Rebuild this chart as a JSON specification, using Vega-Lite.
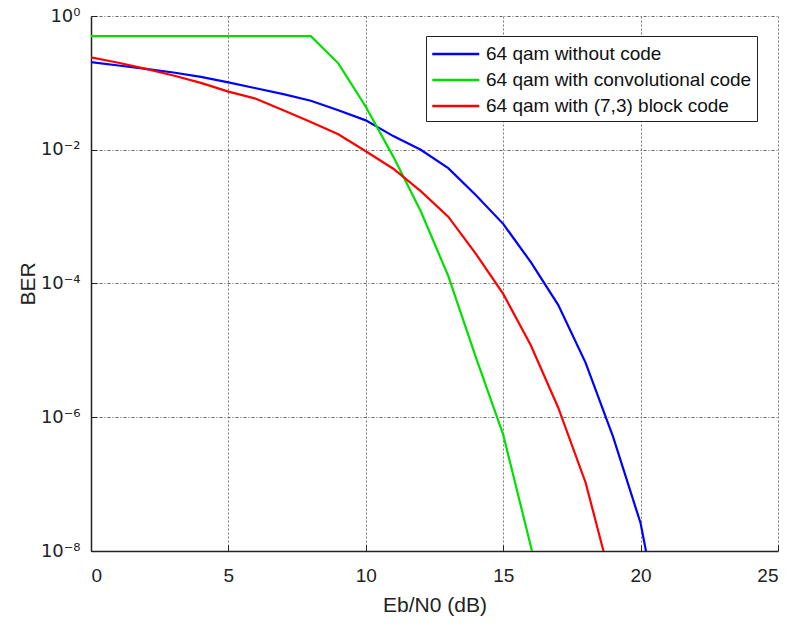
{
  "$schema": "https://vega.github.io/schema/vega-lite/v6.json",
  "autosize": "none",
  "width": 687,
  "height": 535,
  "padding": {"left": 91, "top": 16, "right": 13, "bottom": 78},
  "background": "white",
  "config": {
    "view": {"stroke": null},
    "font": "Liberation Sans"
  },
  "data": {
    "values": [
      {"snr": 0, "ber": 0.205, "s": "64 qam without code"},
      {"snr": 1, "ber": 0.182, "s": "64 qam without code"},
      {"snr": 2, "ber": 0.162, "s": "64 qam without code"},
      {"snr": 3, "ber": 0.143, "s": "64 qam without code"},
      {"snr": 4, "ber": 0.123, "s": "64 qam without code"},
      {"snr": 5, "ber": 0.102, "s": "64 qam without code"},
      {"snr": 6, "ber": 0.083, "s": "64 qam without code"},
      {"snr": 7, "ber": 0.068, "s": "64 qam without code"},
      {"snr": 8, "ber": 0.054, "s": "64 qam without code"},
      {"snr": 9, "ber": 0.039, "s": "64 qam without code"},
      {"snr": 10, "ber": 0.0275, "s": "64 qam without code"},
      {"snr": 11, "ber": 0.016, "s": "64 qam without code"},
      {"snr": 12, "ber": 0.01, "s": "64 qam without code"},
      {"snr": 13, "ber": 0.0053, "s": "64 qam without code"},
      {"snr": 14, "ber": 0.0021, "s": "64 qam without code"},
      {"snr": 15, "ber": 0.00078, "s": "64 qam without code"},
      {"snr": 16, "ber": 0.00021, "s": "64 qam without code"},
      {"snr": 17, "ber": 0.000048, "s": "64 qam without code"},
      {"snr": 18, "ber": 0.0000065, "s": "64 qam without code"},
      {"snr": 19, "ber": 5.1e-7, "s": "64 qam without code"},
      {"snr": 20, "ber": 2.6e-8, "s": "64 qam without code"},
      {"snr": 21, "ber": 2e-10, "s": "64 qam without code"},
      {"snr": 0, "ber": 0.5, "s": "64 qam with convolutional code"},
      {"snr": 1, "ber": 0.5, "s": "64 qam with convolutional code"},
      {"snr": 2, "ber": 0.5, "s": "64 qam with convolutional code"},
      {"snr": 3, "ber": 0.5, "s": "64 qam with convolutional code"},
      {"snr": 4, "ber": 0.5, "s": "64 qam with convolutional code"},
      {"snr": 5, "ber": 0.5, "s": "64 qam with convolutional code"},
      {"snr": 6, "ber": 0.5, "s": "64 qam with convolutional code"},
      {"snr": 7, "ber": 0.5, "s": "64 qam with convolutional code"},
      {"snr": 8, "ber": 0.5, "s": "64 qam with convolutional code"},
      {"snr": 9, "ber": 0.196, "s": "64 qam with convolutional code"},
      {"snr": 10, "ber": 0.044, "s": "64 qam with convolutional code"},
      {"snr": 11, "ber": 0.0079, "s": "64 qam with convolutional code"},
      {"snr": 12, "ber": 0.0012, "s": "64 qam with convolutional code"},
      {"snr": 13, "ber": 0.00013, "s": "64 qam with convolutional code"},
      {"snr": 14, "ber": 0.000008, "s": "64 qam with convolutional code"},
      {"snr": 15, "ber": 5.5e-7, "s": "64 qam with convolutional code"},
      {"snr": 16, "ber": 1.2e-8, "s": "64 qam with convolutional code"},
      {"snr": 17, "ber": 2.5e-10, "s": "64 qam with convolutional code"},
      {"snr": 0, "ber": 0.24, "s": "64 qam with (7,3) block code"},
      {"snr": 1, "ber": 0.2, "s": "64 qam with (7,3) block code"},
      {"snr": 2, "ber": 0.162, "s": "64 qam with (7,3) block code"},
      {"snr": 3, "ber": 0.129, "s": "64 qam with (7,3) block code"},
      {"snr": 4, "ber": 0.1, "s": "64 qam with (7,3) block code"},
      {"snr": 5, "ber": 0.074, "s": "64 qam with (7,3) block code"},
      {"snr": 6, "ber": 0.058, "s": "64 qam with (7,3) block code"},
      {"snr": 7, "ber": 0.039, "s": "64 qam with (7,3) block code"},
      {"snr": 8, "ber": 0.026, "s": "64 qam with (7,3) block code"},
      {"snr": 9, "ber": 0.017, "s": "64 qam with (7,3) block code"},
      {"snr": 10, "ber": 0.0095, "s": "64 qam with (7,3) block code"},
      {"snr": 11, "ber": 0.0052, "s": "64 qam with (7,3) block code"},
      {"snr": 12, "ber": 0.0024, "s": "64 qam with (7,3) block code"},
      {"snr": 13, "ber": 0.001, "s": "64 qam with (7,3) block code"},
      {"snr": 14, "ber": 0.00028, "s": "64 qam with (7,3) block code"},
      {"snr": 15, "ber": 0.00007, "s": "64 qam with (7,3) block code"},
      {"snr": 16, "ber": 0.000012, "s": "64 qam with (7,3) block code"},
      {"snr": 17, "ber": 0.0000014, "s": "64 qam with (7,3) block code"},
      {"snr": 18, "ber": 1.05e-7, "s": "64 qam with (7,3) block code"},
      {"snr": 19, "ber": 2.8e-9, "s": "64 qam with (7,3) block code"}
    ]
  },
  "mark": {"type": "line", "strokeWidth": 2.2, "clip": true},
  "encoding": {
    "x": {
      "field": "snr",
      "type": "quantitative",
      "scale": {"domain": [0, 25], "nice": false, "zero": false},
      "axis": {
        "title": "Eb/N0 (dB)",
        "titleFontSize": 21,
        "titleFontWeight": "normal",
        "titleColor": "#222",
        "titlePadding": 9,
        "values": [0, 5, 10, 15, 20, 25],
        "labelFontSize": 19,
        "labelColor": "#222",
        "labelPadding": 21,
        "tickSize": -6,
        "tickColor": "#222",
        "domainColor": "#222",
        "domainWidth": 1.5,
        "grid": true,
        "gridColor": "#777",
        "gridDash": [2, 2],
        "gridWidth": 1
      }
    },
    "y": {
      "field": "ber",
      "type": "quantitative",
      "scale": {"type": "log", "domain": [1e-8, 1], "nice": false},
      "axis": {
        "title": "BER",
        "titleFontSize": 21,
        "titleFontWeight": "normal",
        "titleColor": "#222",
        "titlePadding": 2,
        "values": [1e-8, 1e-6, 1e-4, 1e-2, 1],
        "labelExpr": "round(log(datum.value)/LN10) == 0 ? '10⁰' : round(log(datum.value)/LN10) == -2 ? '10⁻²' : round(log(datum.value)/LN10) == -4 ? '10⁻⁴' : round(log(datum.value)/LN10) == -6 ? '10⁻⁶' : '10⁻⁸'",
        "labelFont": "DejaVu Sans",
        "labelFontSize": 18,
        "labelColor": "#222",
        "labelPadding": 17,
        "tickSize": -6,
        "tickColor": "#222",
        "domainColor": "#222",
        "domainWidth": 1.5,
        "grid": true,
        "gridColor": "#666",
        "gridDash": [3, 2, 1, 2],
        "gridWidth": 1
      }
    },
    "color": {
      "field": "s",
      "type": "nominal",
      "scale": {
        "domain": ["64 qam without code", "64 qam with convolutional code", "64 qam with (7,3) block code"],
        "range": ["#0000ff", "#00e000", "#ff0000"]
      },
      "legend": {
        "title": null,
        "orient": "none",
        "legendX": 335,
        "legendY": 20,
        "fillColor": "white",
        "strokeColor": "#222",
        "padding": 5,
        "rowPadding": 3,
        "labelFontSize": 19,
        "labelColor": "#111",
        "labelLimit": 400,
        "labelOffset": 29,
        "symbolType": "M-1,0H3",
        "symbolSize": 552,
        "symbolStrokeWidth": 2.5
      }
    }
  }
}
